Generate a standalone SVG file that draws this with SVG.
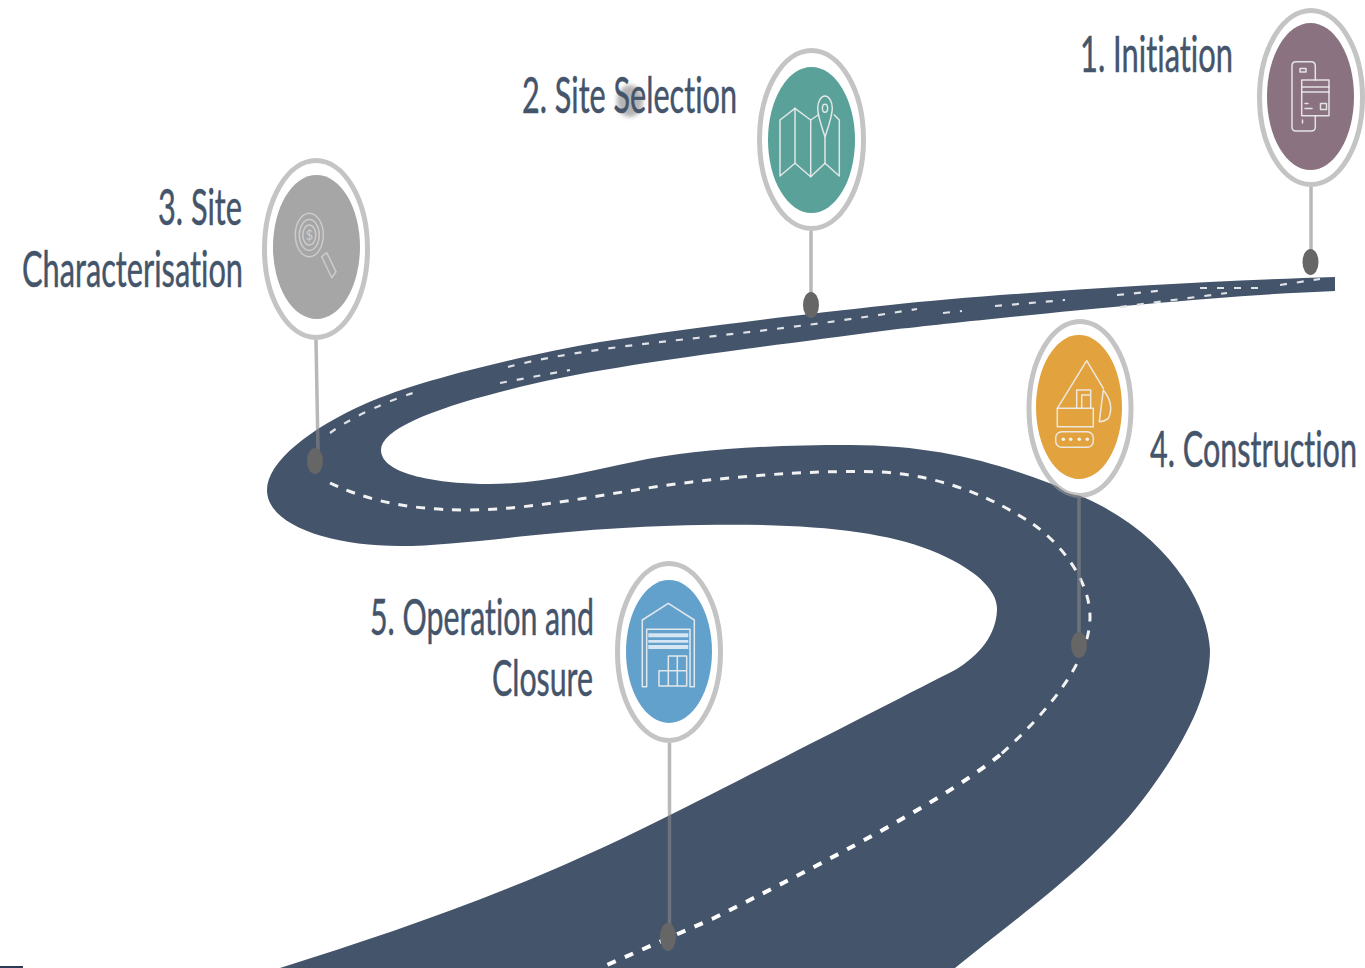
<svg xmlns="http://www.w3.org/2000/svg" width="1365" height="968" viewBox="0 0 1365 968">
<style>
text{font-family:Lato,"Liberation Sans",sans-serif;font-size:50px;fill:#44546a;stroke:#44546a;stroke-width:.5px;font-variant-ligatures:none}
.ring{fill:none;stroke:#999;stroke-opacity:.58;stroke-width:5}
.mask{fill:#fff}
.stem{stroke:#888;stroke-opacity:.6;stroke-width:3.5;fill:none}
.dot{fill:#666}
.ic{fill:none;stroke:#eee;stroke-opacity:.9;stroke-width:1.5;stroke-linejoin:round;stroke-linecap:round}
.d1{fill:none;stroke:#dfe3e8;stroke-width:2.2;stroke-dasharray:7 10}
.d2{fill:none;stroke:#f2f2f2;stroke-width:3;stroke-dasharray:9 9}
.d3{fill:none;stroke:#fff;stroke-width:4;stroke-dasharray:9 10}
</style>
<defs><filter id="smudge" x="-50%" y="-50%" width="200%" height="200%"><feGaussianBlur stdDeviation="2"/></filter></defs>
<rect width="1365" height="968" fill="#fff"/>
<rect x="0" y="966" width="23" height="2" fill="#2c3a55"/>
<g id="road">
<path fill="#44546a" d="M1335,277 C1200,281 1000,293 890,305 C780,317 690,328 600,342 C520,356 420,380 367,403 C310,428 267,462 267,490 C267,525 330,546 400,546 C470,546 560,527 700,525 C800,523 880,530 930,550 C975,568 998,590 997,610 C996,635 980,655 955,670 C900,698 760,770 660,820 C520,890 400,930 280,968 L955,968 C1020,915 1100,860 1150,790 C1190,735 1210,690 1210,650 C1208,605 1170,535 1083,497 C1020,470 950,445 850,445 C760,445 690,450 633,462 C590,471 540,484 490,484 C440,484 381,475 381,450 C381,430 430,410 500,392 C590,368 700,355 890,330 C980,320 1200,296 1335,291 Z"/>
<path class="d1" d="M330,433 C350,418 385,402 413,393"/>
<path class="d1" d="M508,367 C560,353 640,344 697,338 C760,331 830,323 917,309"/>
<path class="d1" d="M943,313 L962,311"/>
<path class="d1" d="M995,306 L1065,300"/>
<path class="d1" d="M500,383 L570,370"/>
<path class="d1" d="M1117,295 L1167,290"/>
<path class="d1" d="M1200,288 L1267,288"/>
<path class="d1" d="M1280,285 L1320,279"/>
<path class="d1" d="M1120,307 L1227,293"/>
<path class="d2" d="M330,483 C360,497 400,510 467,510 C540,510 620,490 692,482 C760,474 830,470 880,472 C950,476 1000,503 1030,522 C1060,542 1090,580 1090,617 C1090,660 1050,710 1000,755"/>
<path class="d3" d="M1000,755 C950,795 860,845 712,919 L600,968"/>
</g>
<g id="connectors">
<path class="stem" d="M1311,187 V255"/>
<path class="stem" d="M811,231 V295"/>
<path class="stem" d="M316,340 L318,450"/>
<path class="stem" d="M1079,498 V635"/>
<path class="stem" d="M669.5,743 V927"/>
<ellipse class="dot" cx="1310.5" cy="262" rx="8" ry="13"/>
<ellipse class="dot" cx="811" cy="305" rx="8" ry="13"/>
<ellipse class="dot" cx="315" cy="461" rx="8" ry="13"/>
<ellipse class="dot" cx="1079" cy="645" rx="8" ry="13"/>
<ellipse class="dot" cx="668" cy="937" rx="8" ry="14"/>
</g>
<g id="node1">
<ellipse class="mask" cx="1311" cy="97.5" rx="51.5" ry="87"/>
<ellipse class="ring" cx="1311" cy="97.5" rx="51.5" ry="87"/>
<ellipse cx="1310.5" cy="96.5" rx="43.5" ry="73.5" fill="#8b7280"/>
<path class="ic" d="M1315.3,80 V66 Q1315.3,61.7 1311,61.7 H1296 Q1292,61.7 1292,66 V127 Q1292,131 1296,131 H1311 Q1315.3,131 1315.3,127 V115.7"/>
<rect class="ic" x="1301.7" y="80" width="27.3" height="35.7"/>
<path class="ic" d="M1302,87 H1329 M1302,92 H1329"/>
<rect class="ic" x="1300" y="68.5" width="6" height="3.5"/>
<rect class="ic" x="1320.5" y="103.5" width="6" height="6"/>
<path class="ic" d="M1305,103.5 H1308 M1305,108.5 H1312 M1302.5,120 V123"/>
<text x="1080" y="72" textLength="153" lengthAdjust="spacingAndGlyphs">1. Initiation</text>
</g>
<g id="node2">
<ellipse class="mask" cx="811.5" cy="139.5" rx="52" ry="89"/>
<ellipse class="ring" cx="811.5" cy="139.5" rx="52" ry="89"/>
<ellipse cx="811.5" cy="140" rx="43.5" ry="73" fill="#5aa199"/>
<path class="ic" d="M818,115 L810.7,120 L795,108.3 L780,120 V176 L795,163.3 L810.7,176.7 L825,163.3 L839.3,176 V120 L834.3,115"/>
<path class="ic" d="M795,108.3 V163.3 M810.7,120 V176.7 M825,137 V163.3"/>
<path class="ic" d="M825,136.7 C821,125 817.7,116 817.7,108.3 A7.3,12.3 0 0 1 832.3,108.3 C832.3,116 829,125 825,136.7 Z"/>
<ellipse class="ic" cx="825" cy="108.3" rx="2.6" ry="4"/>
<ellipse cx="630" cy="101" rx="13" ry="16" fill="#777" opacity=".55" filter="url(#smudge)"/>
<text x="522" y="113" textLength="215" lengthAdjust="spacingAndGlyphs">2. Site Selection</text>
</g>
<g id="node3">
<ellipse class="mask" cx="316" cy="249" rx="51.5" ry="88.5"/>
<ellipse class="ring" cx="316" cy="249" rx="51.5" ry="88.5"/>
<ellipse cx="316.5" cy="247" rx="43.5" ry="72" fill="#a6a6a6"/>
<g style="stroke:#cfcfcf" class="ic">
<ellipse cx="309.3" cy="235" rx="14" ry="21.7"/>
<ellipse cx="309.3" cy="235" rx="10" ry="15.5"/>
<ellipse cx="309.3" cy="235" rx="6.5" ry="10"/>
<path d="M321.7,256.7 L326.7,252.7 L336,271.7 L331.7,277.7 Z"/>
</g>
<text x="309.3" y="240" text-anchor="middle" style="font-size:13px;fill:#cfcfcf;stroke:none">$</text>
<text x="158" y="225" textLength="84" lengthAdjust="spacingAndGlyphs">3. Site</text>
<text x="22" y="287" textLength="221" lengthAdjust="spacingAndGlyphs">Characterisation</text>
</g>
<g id="node4">
<ellipse class="mask" cx="1080" cy="408.5" rx="51" ry="87"/>
<ellipse class="ring" cx="1080" cy="408.5" rx="51" ry="87"/>
<ellipse cx="1079" cy="407" rx="43" ry="72" fill="#e2a33e"/>
<path class="ic" d="M1057.3,408.3 L1086.7,360.7 L1103.3,388.3"/>
<rect class="ic" x="1057.3" y="408.3" width="36" height="18.4"/>
<path class="ic" d="M1076.7,408.3 V390 H1090.7 V408.3 M1081.7,408.3 V395 H1090.7"/>
<path class="ic" d="M1103.3,390 Q1115,405 1108.3,418.3 Q1104,421.7 1099.3,421.7 Q1101.7,403 1103.3,390 Z"/>
<rect class="ic" x="1055.7" y="431.7" width="37.6" height="15.6" rx="6"/>
<g fill="#f5f0e5"><circle cx="1063.3" cy="439.3" r="1.8"/><circle cx="1070.7" cy="439.3" r="1.8"/><circle cx="1079.3" cy="439.3" r="1.8"/><circle cx="1087.3" cy="439.3" r="1.8"/></g>
<text x="1150" y="467" textLength="207" lengthAdjust="spacingAndGlyphs">4. Construction</text>
</g>
<g id="node5">
<ellipse class="mask" cx="669" cy="652" rx="51.5" ry="88.5"/>
<ellipse class="ring" cx="669" cy="652" rx="51.5" ry="88.5"/>
<ellipse cx="669" cy="651.5" rx="43" ry="71.5" fill="#63a1cd"/>
<path class="ic" d="M642.3,686.7 V620 L668.3,603.3 L694.3,620 V686.7 H690 V629.3 H646.7 V686.7 Z"/>
<path d="M648.3,633.3 H688.3 V637.3 H648.3 Z M648.3,640 H688.3 V642.7 H648.3 Z M648.3,645 H688.3 V649 H648.3 Z" fill="#d5e5f1"/>
<path class="ic" d="M668.3,670.7 V656 H686.7 V686 H659 V670.7 H686.7 M677.3,656 V686 M668.3,670.7 V686"/>
<text x="370" y="635" textLength="224" lengthAdjust="spacingAndGlyphs">5. Operation and</text>
<text x="492" y="696" textLength="101" lengthAdjust="spacingAndGlyphs">Closure</text>
</g>
</svg>
